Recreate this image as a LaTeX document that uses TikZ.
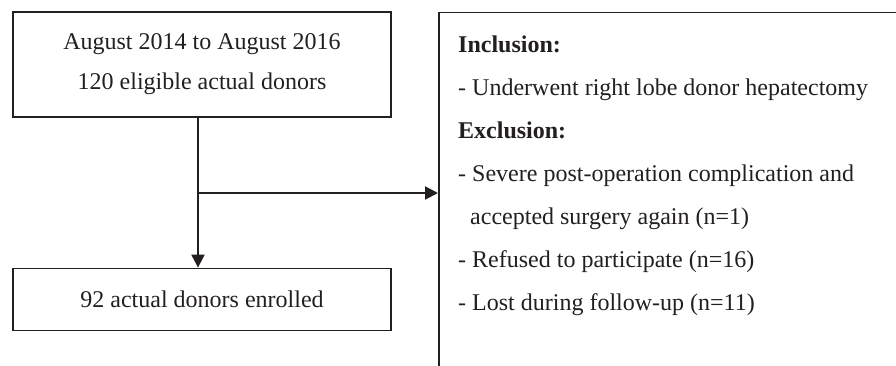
\documentclass[tikz,border=0pt]{standalone}
\usepackage{fontspec}
\setmainfont{Liberation Serif}
\usetikzlibrary{positioning, arrows.meta}
\definecolor{inkline}{HTML}{231F20}

\begin{document}
\begin{tikzpicture}[
    x=1pt, y=-1pt,
    >={Triangle[length=13pt,width=13pt]},
    % boxes of the flow
    stagebox/.style={rectangle, draw=inkline, line width=1.2pt, minimum width=378pt,
        align=center, font=\fontsize{24}{40}\selectfont, text=inkline, inner sep=0pt},
    critbox/.style={rectangle, draw=inkline, line width=1.5pt, anchor=north west,
        minimum width=480pt, minimum height=400pt},
    critlist/.style={anchor=north west, align=left, inner sep=0pt,
        font=\fontsize{24}{43}\selectfont, text=inkline},
    arrow/.style={->, line width=2pt, draw=inkline},
  ]
  \useasboundingbox (0,0) rectangle (896,366);

  % === LEFT COLUMN ===
  \node[stagebox, minimum height=105pt] (period) at (202,64.5)
      {August 2014 to August 2016\\120 eligible actual donors};
  \node[stagebox, minimum height=62pt, below=150pt of period] (enrolled)
      {92 actual donors enrolled};

  % === CRITERIA (runs off the page) ===
  \node[critbox] (criteria) at (438,12) {};
  \node[critlist] (critlist) at ([shift={(20pt,-23.6pt)}]criteria.north west) {
      \textbf{Inclusion:}\\
      - Underwent right lobe donor hepatectomy\\
      \textbf{Exclusion:}\\
      - Severe post-operation complication and\\
      \hspace*{12pt}accepted surgery again (n=1)\\
      - Refused to participate (n=16)\\
      - Lost during follow-up (n=11)
  };

  % === CONNECTIONS ===
  % trunk sits a little left of the box centre
  \coordinate (trunk) at ([xshift=-4pt]period.south);
  \coordinate (split) at (trunk |- 0,193);
  \draw[arrow] (trunk) -- (trunk |- enrolled.north);
  \draw[arrow] (split) -- (split -| criteria.west);
\end{tikzpicture}
\end{document}
